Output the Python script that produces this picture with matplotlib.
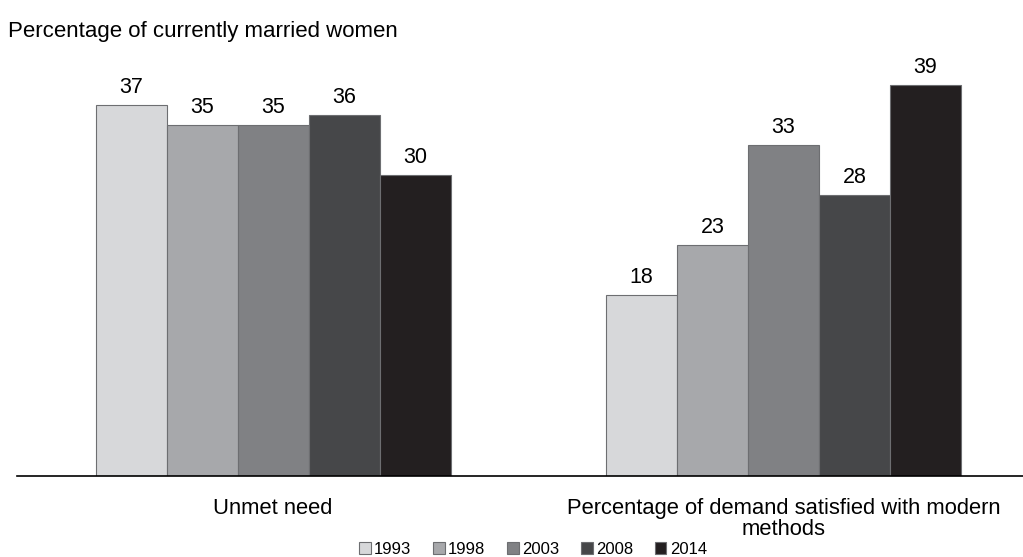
import numpy as np
import matplotlib.pyplot as plt

plt.rcParams['font.family'] = ['Liberation Sans', 'DejaVu Sans']

# Data
categories = ['Unmet need', 'Percentage of demand satisfied with modern\nmethods']
years = ['1993', '1998', '2003', '2008', '2014']
values = {
    '1993': [37, 18],
    '1998': [35, 23],
    '2003': [35, 33],
    '2008': [36, 28],
    '2014': [30, 39],
}
colors = ['#d7d8da', '#a7a8ab', '#808184', '#464749', '#231f20']

fig = plt.figure(figsize=(10.23, 5.57), dpi=100)
ax = fig.add_axes([17 / 1023, 1 - 476 / 557, 1006 / 1023, 416 / 557])

x = np.arange(len(categories))
w = 71 / 510.5
for i, yr in enumerate(years):
    pos = x + (i - 2) * w
    bars = ax.bar(pos, values[yr], width=w, color=colors[i],
                  edgecolor='#6d6e71', linewidth=0.8, label=yr)
    for b, v in zip(bars, values[yr]):
        ax.text(b.get_x() + b.get_width() / 2, v + 0.7, str(v),
                ha='center', va='bottom', fontsize=15.5)

ax.set_xlim(-0.5015, 1.469)
ax.set_ylim(0, 416 / 10.03)
ax.set_xticks(x)
ax.set_xticklabels(categories, fontsize=15.8, linespacing=1.0)
ax.tick_params(axis='x', length=0, pad=16)
ax.set_yticks([])
for s in ['top', 'right', 'left']:
    ax.spines[s].set_visible(False)
ax.spines['bottom'].set_linewidth(1.2)

fig.text(8 / 1023, 1 - 31 / 557, 'Percentage of currently married women',
         fontsize=16, va='center', ha='left')

leg = fig.legend(loc='center', bbox_to_anchor=(533 / 1023, 1 - 549 / 557),
                 ncol=5, frameon=False, fontsize=12, handlelength=0.7,
                 handleheight=0.7, handletextpad=0.2, columnspacing=1.3,
                 borderpad=0)

fig.savefig('out.png', dpi=100)
